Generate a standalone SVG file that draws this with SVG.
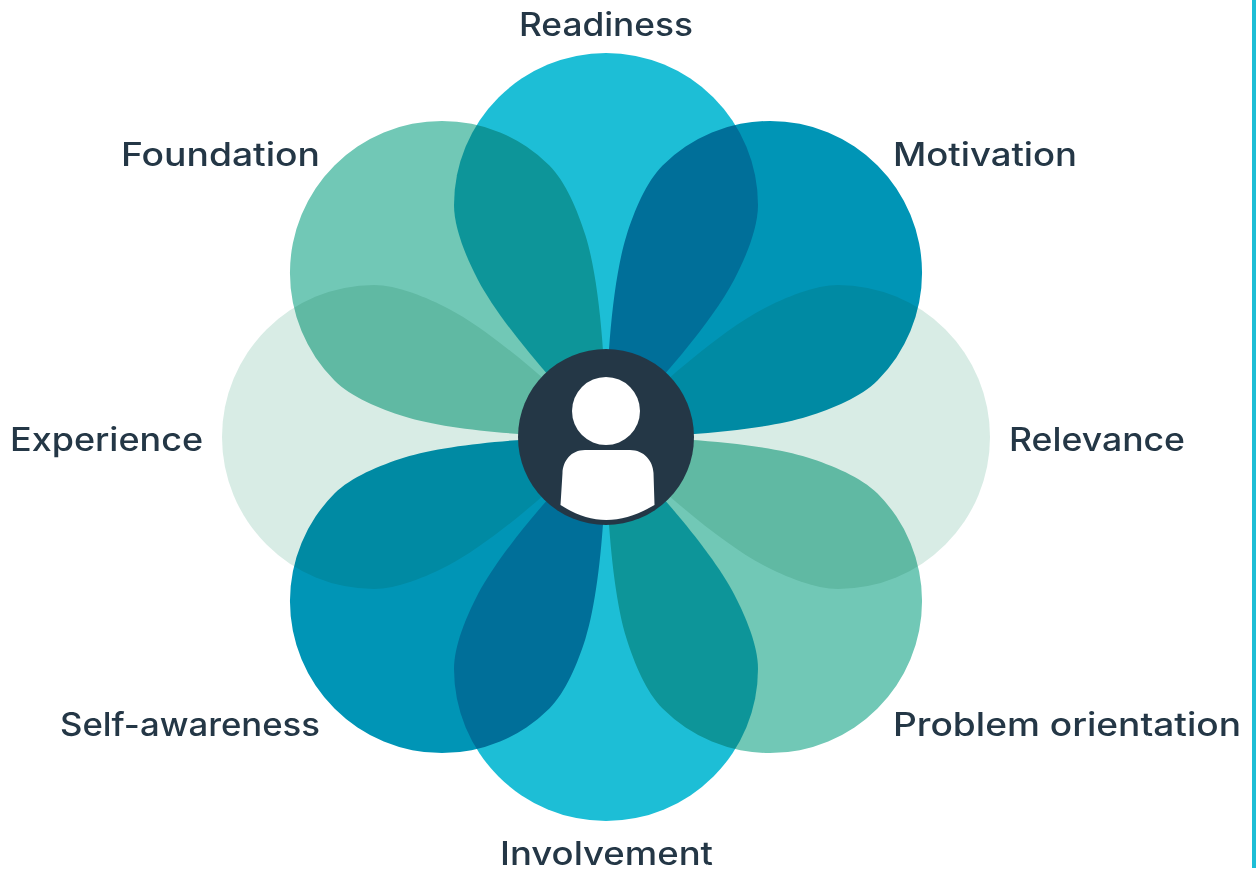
<svg xmlns="http://www.w3.org/2000/svg" width="1256" height="869" viewBox="0 0 1256 869">
<style>
.petal{mix-blend-mode:multiply}
.lbl{font-family:"Inter","Noto Sans","Liberation Sans",sans-serif;font-size:32px;font-weight:500;fill:#243746}
</style>
<defs>
<path id="p" d="M606 437C555 386 500 322 478 280C466 257 454 228 454 205A152 152 0 0 1 758 205C758 228 746 257 734 280C712 322 657 386 606 437Z"/>
</defs>
<rect width="1256" height="869" fill="#fff"/>
<g id="node-relevance"><use href="#p" class="petal" fill="#d8ece5" transform="rotate(90 606 437)"/><text class="lbl" x="1009" y="451" textLength="176" lengthAdjust="spacingAndGlyphs">Relevance</text></g>
<g id="node-experience"><use href="#p" class="petal" fill="#d8ece5" transform="rotate(-90 606 437)"/><text class="lbl" x="10" y="451" textLength="193" lengthAdjust="spacingAndGlyphs">Experience</text></g>
<g id="node-readiness"><use href="#p" class="petal" fill="#1dbed6"/><text class="lbl" x="519" y="36" textLength="174" lengthAdjust="spacingAndGlyphs">Readiness</text></g>
<g id="node-involvement"><use href="#p" class="petal" fill="#1dbed6" transform="rotate(180 606 437)"/><text class="lbl" x="500" y="865" textLength="213" lengthAdjust="spacingAndGlyphs">Involvement</text></g>
<g id="node-motivation"><use href="#p" class="petal" fill="#0095b6" transform="rotate(45 606 437)"/><text class="lbl" x="893" y="166" textLength="184" lengthAdjust="spacingAndGlyphs">Motivation</text></g>
<g id="node-self-awareness"><use href="#p" class="petal" fill="#0095b6" transform="rotate(-135 606 437)"/><text class="lbl" x="60" y="736" textLength="260" lengthAdjust="spacingAndGlyphs">Self-awareness</text></g>
<g id="node-foundation"><use href="#p" class="petal" fill="#71c8b6" transform="rotate(-45 606 437)"/><text class="lbl" x="121" y="166" textLength="199" lengthAdjust="spacingAndGlyphs">Foundation</text></g>
<g id="node-problem-orientation"><use href="#p" class="petal" fill="#71c8b6" transform="rotate(135 606 437)"/><text class="lbl" x="893" y="736" textLength="348" lengthAdjust="spacingAndGlyphs">Problem orientation</text></g>
<g id="node-person">
<circle cx="606" cy="437" r="88" fill="#243746"/>
<circle cx="606" cy="411" r="34" fill="#fff"/>
<path d="M585 450H630C644 450 653 461 653.500 473L654.500 505C621 525 591 525 560.500 505L562.500 473C563 461 571 450 585 450Z" fill="#fff"/>
</g>
<rect id="edge-bar" x="1252" y="0" width="4" height="868" fill="#1dbed6"/>
</svg>
